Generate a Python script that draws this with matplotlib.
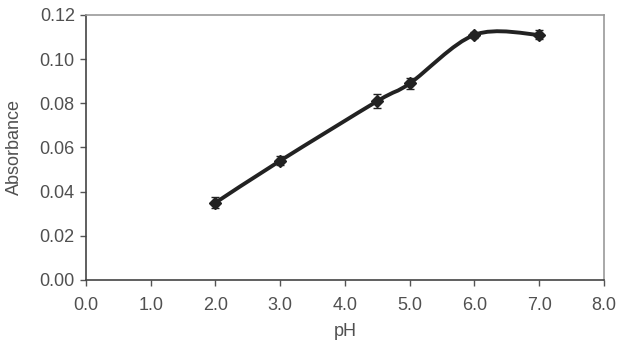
import numpy as np
import matplotlib
matplotlib.use("Agg")
import matplotlib.pyplot as plt
from matplotlib.path import Path
from matplotlib.patches import PathPatch

plt.rcParams['font.family'] = ['Liberation Sans', 'DejaVu Sans']

# data
ph = [2.0, 3.0, 4.5, 5.0, 6.0, 7.0]
absorbance = [0.035, 0.054, 0.081, 0.089, 0.111, 0.111]
err = [0.0025, 0.002, 0.003, 0.0025, 0.0015, 0.002]
x_ticks = [0.0, 1.0, 2.0, 3.0, 4.0, 5.0, 6.0, 7.0, 8.0]
y_ticks = [0.00, 0.02, 0.04, 0.06, 0.08, 0.10, 0.12]

fig = plt.figure(figsize=(6.23, 3.40), dpi=100)
ax = fig.add_axes([0.138, 0.1765, 0.8315, 0.7795])

# smooth line like a spreadsheet "smoothed line" (cubic bezier segments)
x = np.array(ph)
y = np.array(absorbance)
t = 1 / 6
verts = [(x[0], y[0])]
codes = [Path.MOVETO]
for i in range(len(x) - 1):
    p0 = (x[i - 1], y[i - 1]) if i > 0 else (x[i], y[i])
    p1 = (x[i], y[i])
    p2 = (x[i + 1], y[i + 1])
    p3 = (x[i + 2], y[i + 2]) if i + 2 < len(x) else (x[i + 1], y[i + 1])
    c1 = (p1[0] + (p2[0] - p0[0]) * t, p1[1] + (p2[1] - p0[1]) * t)
    c2 = (p2[0] - (p3[0] - p1[0]) * t, p2[1] - (p3[1] - p1[1]) * t)
    verts += [c1, c2, p2]
    codes += [Path.CURVE4] * 3
ax.add_patch(PathPatch(Path(verts, codes), fill=False, lw=2.8,
                       edgecolor='#222222', capstyle='round', joinstyle='round'))

ax.errorbar(ph, absorbance, yerr=err, fmt='D', color='#222222', ms=6,
            ecolor='#222222', elinewidth=1, capsize=3, capthick=1)

ax.set_xlim(0, 8)
ax.set_ylim(0, 0.12)
ax.set_xticks(x_ticks)
ax.set_xticklabels([f"{v:.1f}" for v in x_ticks])
ax.set_yticks(y_ticks)
ax.set_yticklabels([f"{v:.2f}" for v in y_ticks])
ax.tick_params(colors='#555555', labelcolor='#505050', labelsize=13, length=4, width=1)
ax.tick_params(axis='x', pad=8)
ax.tick_params(axis='y', pad=4)
ax.set_xlabel('pH', color='#505050', fontsize=13, labelpad=7)
ax.set_ylabel('Absorbance', color='#505050', fontsize=13, labelpad=12)
for s in ['left', 'bottom']:
    ax.spines[s].set_color('#444444')
    ax.spines[s].set_linewidth(1.2)
for s in ['top', 'right']:
    ax.spines[s].set_color('#999999')
    ax.spines[s].set_linewidth(1.2)

fig.savefig('out.png', dpi=100)
